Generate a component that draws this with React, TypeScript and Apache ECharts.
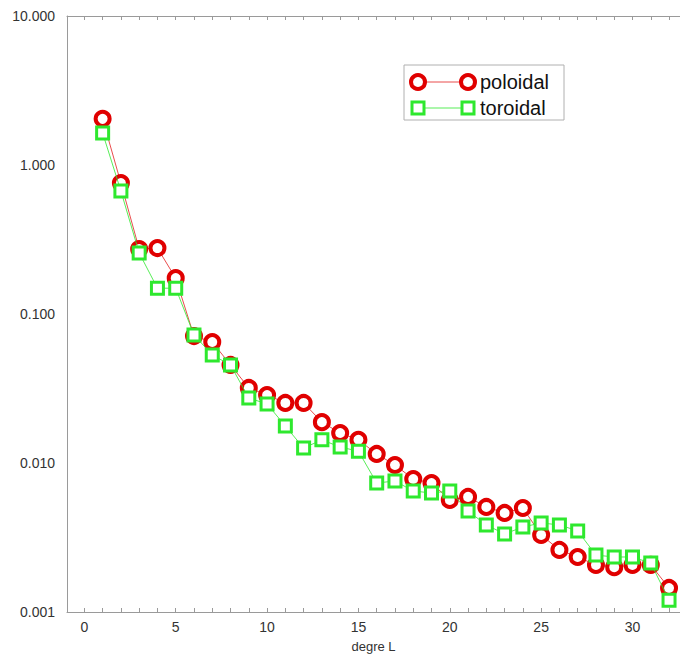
import React, { useEffect, useRef } from "react";
import * as echarts from "echarts";

// spherical harmonic degree L
const degrees = [
  1, 2, 3, 4, 5, 6, 7, 8, 9, 10, 11, 12, 13, 14, 15, 16,
  17, 18, 19, 20, 21, 22, 23, 24, 25, 26, 27, 28, 29, 30, 31, 32,
];

const poloidal = [
  2.04, 0.757, 0.273, 0.277, 0.174, 0.0711, 0.0649, 0.0455,
  0.0319, 0.0286, 0.0253, 0.0253, 0.0188, 0.0159, 0.0143, 0.0115,
  0.0097, 0.00781, 0.00734, 0.00565, 0.00592, 0.00507, 0.00462, 0.00499,
  0.00329, 0.00261, 0.00234, 0.00207, 0.002, 0.00207, 0.00207, 0.00145,
];

const toroidal = [
  1.64, 0.669, 0.257, 0.149, 0.149, 0.0723, 0.0531, 0.0455,
  0.0273, 0.0249, 0.0177, 0.0126, 0.0143, 0.0128, 0.012, 0.00734,
  0.00757, 0.00649, 0.00629, 0.00649, 0.00476, 0.00384, 0.00334, 0.00372,
  0.00396, 0.00384, 0.0035, 0.00241, 0.00234, 0.00234, 0.00213, 0.0012,
];

const xLabelValues = [0, 5, 10, 15, 20, 25, 30];
const xTickValues = [
  0, 1, 2, 3, 4, 5, 6, 7, 8, 9, 10, 11, 12, 13, 14, 15, 16,
  17, 18, 19, 20, 21, 22, 23, 24, 25, 26, 27, 28, 29, 30, 31, 32,
];

const RED = "#e00000";
const GREEN = "#2ee82e";
const AXIS = "#9a9a9a";
const FONT = "Liberation Sans";

export default function App() {
  const ref = useRef<HTMLDivElement>(null);

  useEffect(() => {
    if (!ref.current) return;
    const chart = echarts.init(ref.current, null, { renderer: "svg" });

    const xBase = {
      type: "value" as const,
      min: -0.95,
      max: 32.6,
      splitLine: { show: false },
      axisLine: { show: true, onZero: false, lineStyle: { color: AXIS, width: 1 } },
      axisTick: {
        show: true,
        inside: true,
        length: 4,
        customValues: xTickValues,
        lineStyle: { color: AXIS },
      },
    };

    chart.setOption({
      animation: false,
      backgroundColor: "#ffffff",
      grid: { left: 67, top: 16, right: 0, bottom: 46 },
      xAxis: [
        {
          ...xBase,
          position: "bottom",
          name: "degre L",
          nameLocation: "middle",
          nameGap: 28,
          nameTextStyle: { color: "#333", fontSize: 13, fontFamily: FONT },
          axisLabel: {
            customValues: xLabelValues,
            color: "#333",
            fontSize: 14,
            fontFamily: FONT,
            margin: 8,
          },
        },
        {
          ...xBase,
          position: "top",
          axisLabel: { show: false },
        },
      ],
      yAxis: {
        type: "log",
        logBase: 10,
        min: 0.001,
        max: 10,
        position: "left",
        splitLine: { show: false },
        axisLine: { show: true, onZero: false, lineStyle: { color: AXIS, width: 1 } },
        axisTick: { show: false },
        axisLabel: {
          color: "#333",
          fontSize: 14,
          fontFamily: FONT,
          margin: 12,
          formatter: (v: number) => v.toFixed(3),
        },
      },
      series: [
        {
          name: "poloidal",
          type: "line",
          data: degrees.map((d, i) => [d, poloidal[i]]),
          symbol: "circle",
          symbolSize: 14,
          lineStyle: { color: RED, width: 1, opacity: 0.7 },
          itemStyle: { color: "#ffffff", borderColor: RED, borderWidth: 4 },
          z: 2,
        },
        {
          name: "toroidal",
          type: "line",
          data: degrees.map((d, i) => [d, toroidal[i]]),
          symbol: "rect",
          symbolSize: 12,
          lineStyle: { color: GREEN, width: 1, opacity: 0.8 },
          itemStyle: { color: "#ffffff", borderColor: GREEN, borderWidth: 3 },
          z: 3,
        },
      ],
      graphic: [
        {
          type: "rect",
          shape: { x: 404, y: 65, width: 160, height: 55 },
          style: { fill: "#ffffff", stroke: "#b0b0b0", lineWidth: 1 },
          z: 10,
        },
        {
          type: "line",
          shape: { x1: 418, y1: 82, x2: 468, y2: 82 },
          style: { stroke: RED, lineWidth: 1, opacity: 0.7 },
          z: 11,
        },
        {
          type: "circle",
          shape: { cx: 418, cy: 82, r: 7 },
          style: { fill: "#ffffff", stroke: RED, lineWidth: 4 },
          z: 12,
        },
        {
          type: "circle",
          shape: { cx: 468, cy: 82, r: 7 },
          style: { fill: "#ffffff", stroke: RED, lineWidth: 4 },
          z: 12,
        },
        {
          type: "text",
          x: 480,
          y: 82,
          style: {
            text: "poloidal",
            fill: "#111",
            fontSize: 20,
            fontFamily: FONT,
            verticalAlign: "middle",
            align: "left",
          },
          z: 12,
        },
        {
          type: "line",
          shape: { x1: 418, y1: 108, x2: 468, y2: 108 },
          style: { stroke: GREEN, lineWidth: 1, opacity: 0.8 },
          z: 11,
        },
        {
          type: "rect",
          shape: { x: 412, y: 102, width: 12, height: 12 },
          style: { fill: "#ffffff", stroke: GREEN, lineWidth: 3 },
          z: 12,
        },
        {
          type: "rect",
          shape: { x: 462, y: 102, width: 12, height: 12 },
          style: { fill: "#ffffff", stroke: GREEN, lineWidth: 3 },
          z: 12,
        },
        {
          type: "text",
          x: 480,
          y: 108,
          style: {
            text: "toroidal",
            fill: "#111",
            fontSize: 20,
            fontFamily: FONT,
            verticalAlign: "middle",
            align: "left",
          },
          z: 12,
        },
      ],
    });

    return () => chart.dispose();
  }, []);

  return (
    <div
      ref={ref}
      style={{ position: "absolute", left: 0, top: 0, width: 680, height: 658 }}
    />
  );
}
